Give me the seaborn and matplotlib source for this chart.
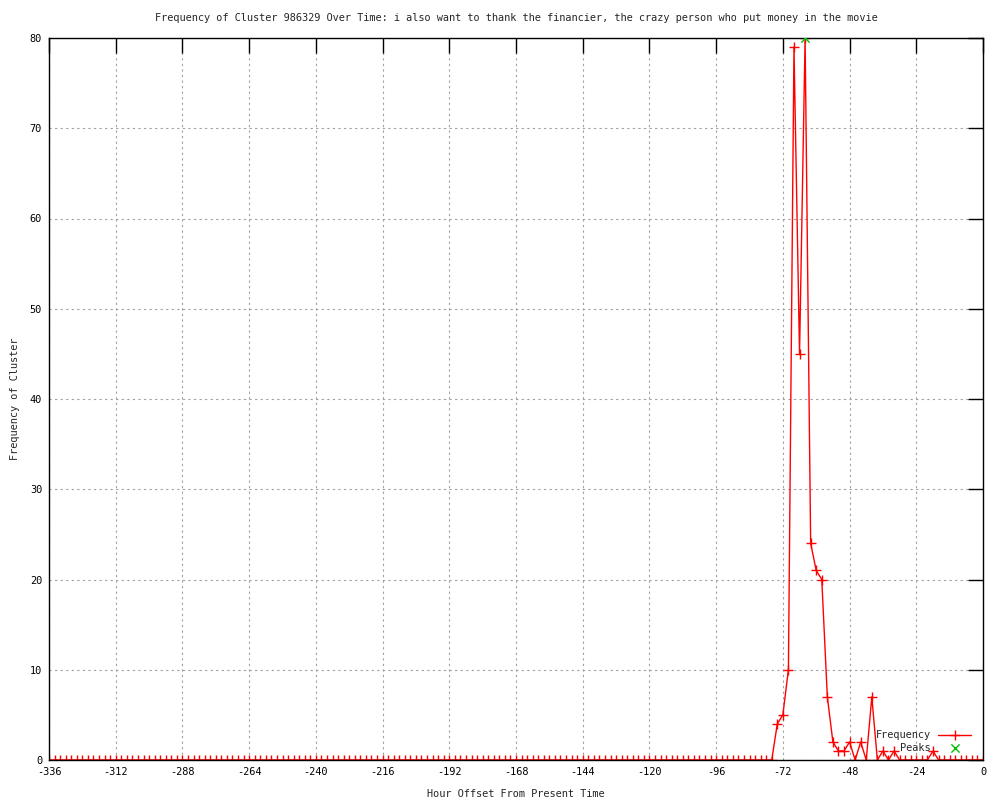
import seaborn as sns
import matplotlib.pyplot as plt

# hour offsets, one sample every 2 hours
hours = list(range(-336, 1, 2))

# frequency per sample
freq = [
    0, 0, 0, 0, 0, 0, 0, 0, 0, 0, 0, 0, 0, 0, 0, 0, 0, 0, 0, 0,
    0, 0, 0, 0, 0, 0, 0, 0, 0, 0, 0, 0, 0, 0, 0, 0, 0, 0, 0, 0,
    0, 0, 0, 0, 0, 0, 0, 0, 0, 0, 0, 0, 0, 0, 0, 0, 0, 0, 0, 0,
    0, 0, 0, 0, 0, 0, 0, 0, 0, 0, 0, 0, 0, 0, 0, 0, 0, 0, 0, 0,
    0, 0, 0, 0, 0, 0, 0, 0, 0, 0, 0, 0, 0, 0, 0, 0, 0, 0, 0, 0,
    0, 0, 0, 0, 0, 0, 0, 0, 0, 0, 0, 0, 0, 0, 0, 0, 0, 0, 0, 0,
    0, 0, 0, 0, 0, 0, 0, 0, 0, 0, 0,
    4, 5, 10, 79, 45, 80, 24, 21, 20, 7, 2, 1, 1, 2, 0, 2, 0, 7, 0, 1,
    0, 1, 0, 0, 0, 0, 0, 0, 1, 0, 0, 0, 0, 0, 0, 0, 0, 0,
]

peak_hours = [-64]
peak_values = [80]

title = ("Frequency of Cluster 986329 Over Time: i also want to thank the "
         "financier, the crazy person who put money in the movie")
x_ticks = list(range(-336, 1, 24))
y_ticks = list(range(0, 81, 10))

sns.set_style("white")
plt.rcParams['font.family'] = ['DejaVu Sans Mono']
plt.rcParams['axes.unicode_minus'] = False
fs = 7.4

fig = plt.figure(figsize=(10, 8), dpi=100)
ax = fig.add_axes([0.049, 0.05, 0.934, 0.9025])

sns.lineplot(x=hours, y=freq, ax=ax, color='red', linewidth=1,
             marker='+', markersize=6.5, markeredgewidth=1,
             markeredgecolor='red', label='Frequency')
sns.scatterplot(x=peak_hours, y=peak_values, ax=ax, color='#00c000',
                marker='x', s=35, linewidth=1, label='Peaks', zorder=5)

ax.set_xlim(-336, 0)
ax.set_ylim(0, 80)
ax.set_xticks(x_ticks)
ax.set_yticks(y_ticks)
ax.grid(True, color='#a0a0a0', linestyle=(0, (2, 3)), linewidth=0.8)
ax.tick_params(direction='in', length=11, width=1, top=True, right=True,
               labelsize=fs, colors='black', pad=5)
for s in ax.spines.values():
    s.set_color('black')
    s.set_linewidth(1)

ax.set_title(title, fontsize=fs, pad=12)
ax.set_xlabel('Hour Offset From Present Time', fontsize=fs, labelpad=9)
ax.set_ylabel('Frequency of Cluster', fontsize=fs, labelpad=7)

leg = ax.legend(loc='lower right', markerfirst=False, frameon=False,
                handlelength=3.2, borderaxespad=0.3, labelspacing=0.25,
                fontsize=fs, handletextpad=0.7, bbox_to_anchor=(0.995, 0.0))

fig.savefig('out.png', dpi=100)
